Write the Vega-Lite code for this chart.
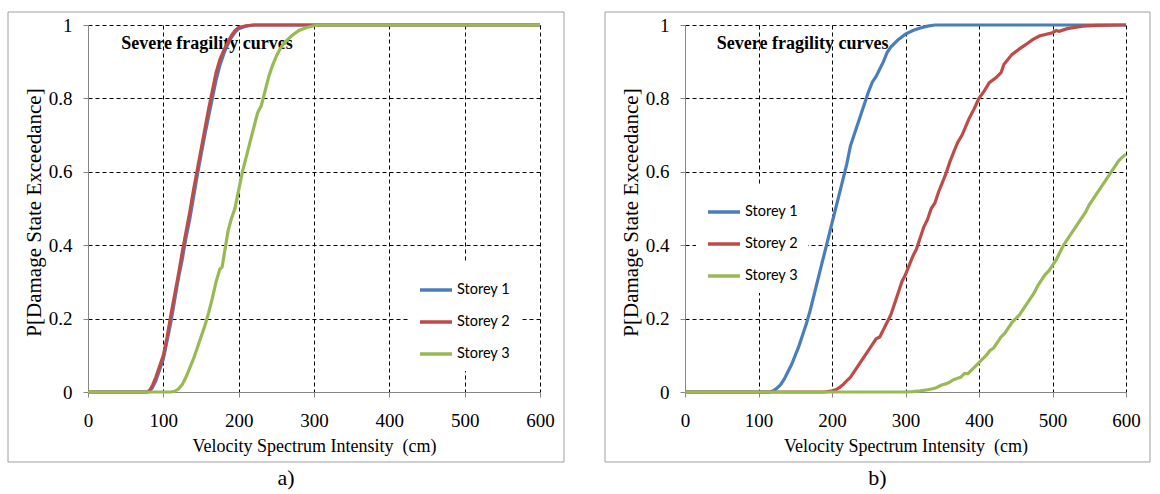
{
  "$schema": "https://vega.github.io/schema/vega-lite/v6.json",
  "background": "white",
  "padding": {"left": 7, "top": 11, "right": 0, "bottom": 0},
  "spacing": 39,
  "config": {
    "view": {"stroke": null},
    "axis": {
      "grid": true,
      "gridDash": [4, 3],
      "gridWidth": 1,
      "domainColor": "#868686",
      "domainWidth": 1,
      "tickColor": "#868686",
      "tickSize": 5,
      "labelFont": "Liberation Serif",
      "labelFontSize": 19,
      "labelColor": "black",
      "labelFlush": false,
      "labelOverlap": false,
      "titleFont": "Liberation Serif",
      "titleFontSize": 18,
      "titleFontWeight": "normal",
      "titleColor": "black"
    },
    "axisY": {"titleFontSize": 21},
    "legend": {
      "orient": "none",
      "title": null,
      "fillColor": "white",
      "padding": 10,
      "symbolType": "stroke",
      "symbolSize": 1024,
      "symbolStrokeWidth": 3.5,
      "labelFont": "Lato",
      "labelFontSize": 14.5,
      "labelColor": "black",
      "labelOffset": 3,
      "rowPadding": 7
    },
    "title": {"font": "Liberation Serif", "fontSize": 22, "fontWeight": "normal", "color": "black", "orient": "bottom", "frame": "bounds", "anchor": "middle", "offset": 6}
  },
  "resolve": {"scale": {"color": "independent"}, "legend": {"color": "independent"}},
  "datasets": {
    "curves": [
      {"panel": "a", "storey": "Storey 1", "vsi": 0, "p": 0},
      {"panel": "a", "storey": "Storey 1", "vsi": 80, "p": 0},
      {"panel": "a", "storey": "Storey 1", "vsi": 85, "p": 0.01},
      {"panel": "a", "storey": "Storey 1", "vsi": 90, "p": 0.03},
      {"panel": "a", "storey": "Storey 1", "vsi": 95, "p": 0.06},
      {"panel": "a", "storey": "Storey 1", "vsi": 100, "p": 0.09},
      {"panel": "a", "storey": "Storey 1", "vsi": 105, "p": 0.14},
      {"panel": "a", "storey": "Storey 1", "vsi": 110, "p": 0.19},
      {"panel": "a", "storey": "Storey 1", "vsi": 115, "p": 0.25},
      {"panel": "a", "storey": "Storey 1", "vsi": 120, "p": 0.31},
      {"panel": "a", "storey": "Storey 1", "vsi": 125, "p": 0.36},
      {"panel": "a", "storey": "Storey 1", "vsi": 130, "p": 0.42},
      {"panel": "a", "storey": "Storey 1", "vsi": 135, "p": 0.47},
      {"panel": "a", "storey": "Storey 1", "vsi": 140, "p": 0.53},
      {"panel": "a", "storey": "Storey 1", "vsi": 145, "p": 0.59},
      {"panel": "a", "storey": "Storey 1", "vsi": 150, "p": 0.645},
      {"panel": "a", "storey": "Storey 1", "vsi": 155, "p": 0.7},
      {"panel": "a", "storey": "Storey 1", "vsi": 160, "p": 0.75},
      {"panel": "a", "storey": "Storey 1", "vsi": 165, "p": 0.8},
      {"panel": "a", "storey": "Storey 1", "vsi": 170, "p": 0.85},
      {"panel": "a", "storey": "Storey 1", "vsi": 175, "p": 0.89},
      {"panel": "a", "storey": "Storey 1", "vsi": 180, "p": 0.92},
      {"panel": "a", "storey": "Storey 1", "vsi": 185, "p": 0.945},
      {"panel": "a", "storey": "Storey 1", "vsi": 190, "p": 0.965},
      {"panel": "a", "storey": "Storey 1", "vsi": 195, "p": 0.98},
      {"panel": "a", "storey": "Storey 1", "vsi": 200, "p": 0.99},
      {"panel": "a", "storey": "Storey 1", "vsi": 210, "p": 0.997},
      {"panel": "a", "storey": "Storey 1", "vsi": 220, "p": 1},
      {"panel": "a", "storey": "Storey 1", "vsi": 600, "p": 1},

      {"panel": "a", "storey": "Storey 2", "vsi": 0, "p": 0},
      {"panel": "a", "storey": "Storey 2", "vsi": 78, "p": 0},
      {"panel": "a", "storey": "Storey 2", "vsi": 82, "p": 0.005},
      {"panel": "a", "storey": "Storey 2", "vsi": 86, "p": 0.02},
      {"panel": "a", "storey": "Storey 2", "vsi": 90, "p": 0.04},
      {"panel": "a", "storey": "Storey 2", "vsi": 95, "p": 0.07},
      {"panel": "a", "storey": "Storey 2", "vsi": 100, "p": 0.1},
      {"panel": "a", "storey": "Storey 2", "vsi": 105, "p": 0.15},
      {"panel": "a", "storey": "Storey 2", "vsi": 110, "p": 0.21},
      {"panel": "a", "storey": "Storey 2", "vsi": 115, "p": 0.265},
      {"panel": "a", "storey": "Storey 2", "vsi": 120, "p": 0.32},
      {"panel": "a", "storey": "Storey 2", "vsi": 125, "p": 0.38},
      {"panel": "a", "storey": "Storey 2", "vsi": 130, "p": 0.435},
      {"panel": "a", "storey": "Storey 2", "vsi": 135, "p": 0.49},
      {"panel": "a", "storey": "Storey 2", "vsi": 140, "p": 0.55},
      {"panel": "a", "storey": "Storey 2", "vsi": 145, "p": 0.605},
      {"panel": "a", "storey": "Storey 2", "vsi": 150, "p": 0.66},
      {"panel": "a", "storey": "Storey 2", "vsi": 155, "p": 0.715},
      {"panel": "a", "storey": "Storey 2", "vsi": 160, "p": 0.77},
      {"panel": "a", "storey": "Storey 2", "vsi": 165, "p": 0.82},
      {"panel": "a", "storey": "Storey 2", "vsi": 170, "p": 0.87},
      {"panel": "a", "storey": "Storey 2", "vsi": 175, "p": 0.905},
      {"panel": "a", "storey": "Storey 2", "vsi": 180, "p": 0.93},
      {"panel": "a", "storey": "Storey 2", "vsi": 185, "p": 0.95},
      {"panel": "a", "storey": "Storey 2", "vsi": 190, "p": 0.97},
      {"panel": "a", "storey": "Storey 2", "vsi": 195, "p": 0.985},
      {"panel": "a", "storey": "Storey 2", "vsi": 200, "p": 0.993},
      {"panel": "a", "storey": "Storey 2", "vsi": 210, "p": 0.998},
      {"panel": "a", "storey": "Storey 2", "vsi": 220, "p": 1},
      {"panel": "a", "storey": "Storey 2", "vsi": 600, "p": 1},

      {"panel": "a", "storey": "Storey 3", "vsi": 0, "p": 0},
      {"panel": "a", "storey": "Storey 3", "vsi": 110, "p": 0},
      {"panel": "a", "storey": "Storey 3", "vsi": 115, "p": 0.002},
      {"panel": "a", "storey": "Storey 3", "vsi": 120, "p": 0.008},
      {"panel": "a", "storey": "Storey 3", "vsi": 125, "p": 0.02},
      {"panel": "a", "storey": "Storey 3", "vsi": 130, "p": 0.04},
      {"panel": "a", "storey": "Storey 3", "vsi": 135, "p": 0.065},
      {"panel": "a", "storey": "Storey 3", "vsi": 140, "p": 0.09},
      {"panel": "a", "storey": "Storey 3", "vsi": 145, "p": 0.12},
      {"panel": "a", "storey": "Storey 3", "vsi": 150, "p": 0.15},
      {"panel": "a", "storey": "Storey 3", "vsi": 155, "p": 0.18},
      {"panel": "a", "storey": "Storey 3", "vsi": 160, "p": 0.215},
      {"panel": "a", "storey": "Storey 3", "vsi": 165, "p": 0.255},
      {"panel": "a", "storey": "Storey 3", "vsi": 170, "p": 0.3},
      {"panel": "a", "storey": "Storey 3", "vsi": 175, "p": 0.335},
      {"panel": "a", "storey": "Storey 3", "vsi": 178, "p": 0.34},
      {"panel": "a", "storey": "Storey 3", "vsi": 182, "p": 0.39},
      {"panel": "a", "storey": "Storey 3", "vsi": 186, "p": 0.44},
      {"panel": "a", "storey": "Storey 3", "vsi": 190, "p": 0.47},
      {"panel": "a", "storey": "Storey 3", "vsi": 195, "p": 0.5},
      {"panel": "a", "storey": "Storey 3", "vsi": 200, "p": 0.55},
      {"panel": "a", "storey": "Storey 3", "vsi": 205, "p": 0.6},
      {"panel": "a", "storey": "Storey 3", "vsi": 210, "p": 0.64},
      {"panel": "a", "storey": "Storey 3", "vsi": 215, "p": 0.68},
      {"panel": "a", "storey": "Storey 3", "vsi": 220, "p": 0.72},
      {"panel": "a", "storey": "Storey 3", "vsi": 225, "p": 0.76},
      {"panel": "a", "storey": "Storey 3", "vsi": 230, "p": 0.78},
      {"panel": "a", "storey": "Storey 3", "vsi": 235, "p": 0.82},
      {"panel": "a", "storey": "Storey 3", "vsi": 240, "p": 0.86},
      {"panel": "a", "storey": "Storey 3", "vsi": 245, "p": 0.89},
      {"panel": "a", "storey": "Storey 3", "vsi": 250, "p": 0.915},
      {"panel": "a", "storey": "Storey 3", "vsi": 255, "p": 0.935},
      {"panel": "a", "storey": "Storey 3", "vsi": 260, "p": 0.95},
      {"panel": "a", "storey": "Storey 3", "vsi": 270, "p": 0.97},
      {"panel": "a", "storey": "Storey 3", "vsi": 280, "p": 0.985},
      {"panel": "a", "storey": "Storey 3", "vsi": 290, "p": 0.993},
      {"panel": "a", "storey": "Storey 3", "vsi": 300, "p": 0.998},
      {"panel": "a", "storey": "Storey 3", "vsi": 310, "p": 1},
      {"panel": "a", "storey": "Storey 3", "vsi": 600, "p": 1},

      {"panel": "b", "storey": "Storey 1", "vsi": 0, "p": 0},
      {"panel": "b", "storey": "Storey 1", "vsi": 115, "p": 0},
      {"panel": "b", "storey": "Storey 1", "vsi": 120, "p": 0.003},
      {"panel": "b", "storey": "Storey 1", "vsi": 125, "p": 0.01},
      {"panel": "b", "storey": "Storey 1", "vsi": 130, "p": 0.02},
      {"panel": "b", "storey": "Storey 1", "vsi": 135, "p": 0.035},
      {"panel": "b", "storey": "Storey 1", "vsi": 140, "p": 0.055},
      {"panel": "b", "storey": "Storey 1", "vsi": 145, "p": 0.075},
      {"panel": "b", "storey": "Storey 1", "vsi": 150, "p": 0.1},
      {"panel": "b", "storey": "Storey 1", "vsi": 155, "p": 0.125},
      {"panel": "b", "storey": "Storey 1", "vsi": 160, "p": 0.155},
      {"panel": "b", "storey": "Storey 1", "vsi": 165, "p": 0.185},
      {"panel": "b", "storey": "Storey 1", "vsi": 170, "p": 0.22},
      {"panel": "b", "storey": "Storey 1", "vsi": 175, "p": 0.26},
      {"panel": "b", "storey": "Storey 1", "vsi": 180, "p": 0.3},
      {"panel": "b", "storey": "Storey 1", "vsi": 185, "p": 0.34},
      {"panel": "b", "storey": "Storey 1", "vsi": 190, "p": 0.38},
      {"panel": "b", "storey": "Storey 1", "vsi": 195, "p": 0.42},
      {"panel": "b", "storey": "Storey 1", "vsi": 200, "p": 0.46},
      {"panel": "b", "storey": "Storey 1", "vsi": 205, "p": 0.5},
      {"panel": "b", "storey": "Storey 1", "vsi": 210, "p": 0.54},
      {"panel": "b", "storey": "Storey 1", "vsi": 215, "p": 0.58},
      {"panel": "b", "storey": "Storey 1", "vsi": 220, "p": 0.62},
      {"panel": "b", "storey": "Storey 1", "vsi": 225, "p": 0.67},
      {"panel": "b", "storey": "Storey 1", "vsi": 230, "p": 0.7},
      {"panel": "b", "storey": "Storey 1", "vsi": 235, "p": 0.73},
      {"panel": "b", "storey": "Storey 1", "vsi": 240, "p": 0.76},
      {"panel": "b", "storey": "Storey 1", "vsi": 245, "p": 0.79},
      {"panel": "b", "storey": "Storey 1", "vsi": 250, "p": 0.82},
      {"panel": "b", "storey": "Storey 1", "vsi": 255, "p": 0.845},
      {"panel": "b", "storey": "Storey 1", "vsi": 260, "p": 0.86},
      {"panel": "b", "storey": "Storey 1", "vsi": 265, "p": 0.88},
      {"panel": "b", "storey": "Storey 1", "vsi": 270, "p": 0.9},
      {"panel": "b", "storey": "Storey 1", "vsi": 275, "p": 0.925},
      {"panel": "b", "storey": "Storey 1", "vsi": 280, "p": 0.94},
      {"panel": "b", "storey": "Storey 1", "vsi": 290, "p": 0.96},
      {"panel": "b", "storey": "Storey 1", "vsi": 300, "p": 0.975},
      {"panel": "b", "storey": "Storey 1", "vsi": 310, "p": 0.985},
      {"panel": "b", "storey": "Storey 1", "vsi": 320, "p": 0.992},
      {"panel": "b", "storey": "Storey 1", "vsi": 330, "p": 0.997},
      {"panel": "b", "storey": "Storey 1", "vsi": 340, "p": 1},
      {"panel": "b", "storey": "Storey 1", "vsi": 600, "p": 1},

      {"panel": "b", "storey": "Storey 2", "vsi": 0, "p": 0},
      {"panel": "b", "storey": "Storey 2", "vsi": 190, "p": 0},
      {"panel": "b", "storey": "Storey 2", "vsi": 200, "p": 0.003},
      {"panel": "b", "storey": "Storey 2", "vsi": 205, "p": 0.006},
      {"panel": "b", "storey": "Storey 2", "vsi": 210, "p": 0.012},
      {"panel": "b", "storey": "Storey 2", "vsi": 215, "p": 0.02},
      {"panel": "b", "storey": "Storey 2", "vsi": 220, "p": 0.03},
      {"panel": "b", "storey": "Storey 2", "vsi": 225, "p": 0.04},
      {"panel": "b", "storey": "Storey 2", "vsi": 230, "p": 0.055},
      {"panel": "b", "storey": "Storey 2", "vsi": 235, "p": 0.07},
      {"panel": "b", "storey": "Storey 2", "vsi": 240, "p": 0.085},
      {"panel": "b", "storey": "Storey 2", "vsi": 245, "p": 0.1},
      {"panel": "b", "storey": "Storey 2", "vsi": 250, "p": 0.115},
      {"panel": "b", "storey": "Storey 2", "vsi": 255, "p": 0.13},
      {"panel": "b", "storey": "Storey 2", "vsi": 260, "p": 0.145},
      {"panel": "b", "storey": "Storey 2", "vsi": 265, "p": 0.15},
      {"panel": "b", "storey": "Storey 2", "vsi": 270, "p": 0.17},
      {"panel": "b", "storey": "Storey 2", "vsi": 275, "p": 0.19},
      {"panel": "b", "storey": "Storey 2", "vsi": 280, "p": 0.21},
      {"panel": "b", "storey": "Storey 2", "vsi": 285, "p": 0.24},
      {"panel": "b", "storey": "Storey 2", "vsi": 290, "p": 0.27},
      {"panel": "b", "storey": "Storey 2", "vsi": 295, "p": 0.3},
      {"panel": "b", "storey": "Storey 2", "vsi": 300, "p": 0.32},
      {"panel": "b", "storey": "Storey 2", "vsi": 305, "p": 0.345},
      {"panel": "b", "storey": "Storey 2", "vsi": 310, "p": 0.37},
      {"panel": "b", "storey": "Storey 2", "vsi": 315, "p": 0.39},
      {"panel": "b", "storey": "Storey 2", "vsi": 320, "p": 0.42},
      {"panel": "b", "storey": "Storey 2", "vsi": 325, "p": 0.45},
      {"panel": "b", "storey": "Storey 2", "vsi": 330, "p": 0.47},
      {"panel": "b", "storey": "Storey 2", "vsi": 335, "p": 0.5},
      {"panel": "b", "storey": "Storey 2", "vsi": 340, "p": 0.515},
      {"panel": "b", "storey": "Storey 2", "vsi": 345, "p": 0.545},
      {"panel": "b", "storey": "Storey 2", "vsi": 350, "p": 0.57},
      {"panel": "b", "storey": "Storey 2", "vsi": 355, "p": 0.595},
      {"panel": "b", "storey": "Storey 2", "vsi": 360, "p": 0.625},
      {"panel": "b", "storey": "Storey 2", "vsi": 366, "p": 0.656},
      {"panel": "b", "storey": "Storey 2", "vsi": 371, "p": 0.68},
      {"panel": "b", "storey": "Storey 2", "vsi": 377, "p": 0.7},
      {"panel": "b", "storey": "Storey 2", "vsi": 386, "p": 0.743},
      {"panel": "b", "storey": "Storey 2", "vsi": 393, "p": 0.77},
      {"panel": "b", "storey": "Storey 2", "vsi": 400, "p": 0.8},
      {"panel": "b", "storey": "Storey 2", "vsi": 407, "p": 0.82},
      {"panel": "b", "storey": "Storey 2", "vsi": 414, "p": 0.843},
      {"panel": "b", "storey": "Storey 2", "vsi": 423, "p": 0.856},
      {"panel": "b", "storey": "Storey 2", "vsi": 430, "p": 0.87},
      {"panel": "b", "storey": "Storey 2", "vsi": 434, "p": 0.893},
      {"panel": "b", "storey": "Storey 2", "vsi": 445, "p": 0.92},
      {"panel": "b", "storey": "Storey 2", "vsi": 455, "p": 0.935},
      {"panel": "b", "storey": "Storey 2", "vsi": 464, "p": 0.947},
      {"panel": "b", "storey": "Storey 2", "vsi": 473, "p": 0.96},
      {"panel": "b", "storey": "Storey 2", "vsi": 482, "p": 0.97},
      {"panel": "b", "storey": "Storey 2", "vsi": 500, "p": 0.979},
      {"panel": "b", "storey": "Storey 2", "vsi": 505, "p": 0.985},
      {"panel": "b", "storey": "Storey 2", "vsi": 509, "p": 0.983},
      {"panel": "b", "storey": "Storey 2", "vsi": 520, "p": 0.99},
      {"panel": "b", "storey": "Storey 2", "vsi": 541, "p": 0.997},
      {"panel": "b", "storey": "Storey 2", "vsi": 560, "p": 0.999},
      {"panel": "b", "storey": "Storey 2", "vsi": 595, "p": 1},
      {"panel": "b", "storey": "Storey 2", "vsi": 600, "p": 1},

      {"panel": "b", "storey": "Storey 3", "vsi": 0, "p": 0},
      {"panel": "b", "storey": "Storey 3", "vsi": 300, "p": 0},
      {"panel": "b", "storey": "Storey 3", "vsi": 310, "p": 0.001},
      {"panel": "b", "storey": "Storey 3", "vsi": 320, "p": 0.003},
      {"panel": "b", "storey": "Storey 3", "vsi": 330, "p": 0.006},
      {"panel": "b", "storey": "Storey 3", "vsi": 340, "p": 0.01},
      {"panel": "b", "storey": "Storey 3", "vsi": 345, "p": 0.015},
      {"panel": "b", "storey": "Storey 3", "vsi": 350, "p": 0.02},
      {"panel": "b", "storey": "Storey 3", "vsi": 355, "p": 0.022},
      {"panel": "b", "storey": "Storey 3", "vsi": 360, "p": 0.027},
      {"panel": "b", "storey": "Storey 3", "vsi": 365, "p": 0.033},
      {"panel": "b", "storey": "Storey 3", "vsi": 370, "p": 0.037},
      {"panel": "b", "storey": "Storey 3", "vsi": 375, "p": 0.04},
      {"panel": "b", "storey": "Storey 3", "vsi": 380, "p": 0.05},
      {"panel": "b", "storey": "Storey 3", "vsi": 385, "p": 0.05},
      {"panel": "b", "storey": "Storey 3", "vsi": 390, "p": 0.06},
      {"panel": "b", "storey": "Storey 3", "vsi": 395, "p": 0.07},
      {"panel": "b", "storey": "Storey 3", "vsi": 400, "p": 0.08},
      {"panel": "b", "storey": "Storey 3", "vsi": 405, "p": 0.09},
      {"panel": "b", "storey": "Storey 3", "vsi": 410, "p": 0.1},
      {"panel": "b", "storey": "Storey 3", "vsi": 415, "p": 0.113},
      {"panel": "b", "storey": "Storey 3", "vsi": 420, "p": 0.12},
      {"panel": "b", "storey": "Storey 3", "vsi": 425, "p": 0.135},
      {"panel": "b", "storey": "Storey 3", "vsi": 430, "p": 0.15},
      {"panel": "b", "storey": "Storey 3", "vsi": 435, "p": 0.16},
      {"panel": "b", "storey": "Storey 3", "vsi": 440, "p": 0.175},
      {"panel": "b", "storey": "Storey 3", "vsi": 445, "p": 0.19},
      {"panel": "b", "storey": "Storey 3", "vsi": 450, "p": 0.2},
      {"panel": "b", "storey": "Storey 3", "vsi": 455, "p": 0.21},
      {"panel": "b", "storey": "Storey 3", "vsi": 460, "p": 0.225},
      {"panel": "b", "storey": "Storey 3", "vsi": 465, "p": 0.24},
      {"panel": "b", "storey": "Storey 3", "vsi": 470, "p": 0.255},
      {"panel": "b", "storey": "Storey 3", "vsi": 475, "p": 0.27},
      {"panel": "b", "storey": "Storey 3", "vsi": 480, "p": 0.29},
      {"panel": "b", "storey": "Storey 3", "vsi": 485, "p": 0.305},
      {"panel": "b", "storey": "Storey 3", "vsi": 490, "p": 0.32},
      {"panel": "b", "storey": "Storey 3", "vsi": 495, "p": 0.33},
      {"panel": "b", "storey": "Storey 3", "vsi": 500, "p": 0.345},
      {"panel": "b", "storey": "Storey 3", "vsi": 505, "p": 0.36},
      {"panel": "b", "storey": "Storey 3", "vsi": 510, "p": 0.38},
      {"panel": "b", "storey": "Storey 3", "vsi": 515, "p": 0.4},
      {"panel": "b", "storey": "Storey 3", "vsi": 520, "p": 0.415},
      {"panel": "b", "storey": "Storey 3", "vsi": 525, "p": 0.43},
      {"panel": "b", "storey": "Storey 3", "vsi": 530, "p": 0.445},
      {"panel": "b", "storey": "Storey 3", "vsi": 535, "p": 0.46},
      {"panel": "b", "storey": "Storey 3", "vsi": 540, "p": 0.475},
      {"panel": "b", "storey": "Storey 3", "vsi": 545, "p": 0.49},
      {"panel": "b", "storey": "Storey 3", "vsi": 550, "p": 0.51},
      {"panel": "b", "storey": "Storey 3", "vsi": 555, "p": 0.525},
      {"panel": "b", "storey": "Storey 3", "vsi": 560, "p": 0.54},
      {"panel": "b", "storey": "Storey 3", "vsi": 565, "p": 0.555},
      {"panel": "b", "storey": "Storey 3", "vsi": 570, "p": 0.57},
      {"panel": "b", "storey": "Storey 3", "vsi": 575, "p": 0.585},
      {"panel": "b", "storey": "Storey 3", "vsi": 580, "p": 0.6},
      {"panel": "b", "storey": "Storey 3", "vsi": 585, "p": 0.615},
      {"panel": "b", "storey": "Storey 3", "vsi": 590, "p": 0.63},
      {"panel": "b", "storey": "Storey 3", "vsi": 595, "p": 0.64},
      {"panel": "b", "storey": "Storey 3", "vsi": 600, "p": 0.648}
    ]
  },
  "hconcat": [
    {
      "width": 452,
      "height": 367,
      "title": {"text": "a)"},
      "layer": [
        {
          "data": {"values": [{"frame": 1}]},
          "mark": {"type": "rect", "fill": null, "stroke": "#a0a0a0", "strokeWidth": 1, "clip": false},
          "encoding": {
            "x": {"datum": -106.19, "type": "quantitative", "scale": {"domain": [0, 600], "nice": false},
              "axis": {"title": "Velocity Spectrum Intensity\u00a0 (cm)", "values": [0, 100, 200, 300, 400, 500, 600], "format": "d",
                "gridColor": {"condition": {"test": "datum.value === 0", "value": "transparent"}, "value": "black"},
                "labelBaseline": "alphabetic", "labelPadding": 29, "titleBaseline": "alphabetic", "titleY": 59}},
            "x2": {"datum": 631.86},
            "y": {"datum": 1.0354, "type": "quantitative", "scale": {"domain": [0, 1], "nice": false},
              "axis": {"title": "P[Damage State Exceedance]", "values": [0, 0.2, 0.4, 0.6, 0.8, 1], "format": "~g",
                "gridColor": {"condition": {"test": "datum.value === 0", "value": "transparent"}, "value": "black"},
                "labelPadding": 11, "titleBaseline": "middle", "titleX": -54, "titleY": 187}},
            "y2": {"datum": -0.1907}
          }
        },
        {
          "data": {"values": [{"label": "Severe fragility curves"}]},
          "mark": {"type": "text", "font": "Liberation Serif", "fontSize": 18, "fontWeight": "bold", "baseline": "alphabetic", "align": "center", "color": "black"},
          "encoding": {
            "text": {"field": "label"},
            "x": {"datum": 158, "type": "quantitative", "scale": {"domain": [0, 600], "nice": false},
              "axis": {"title": "Velocity Spectrum Intensity\u00a0 (cm)", "values": [0, 100, 200, 300, 400, 500, 600], "format": "d",
                "gridColor": {"condition": {"test": "datum.value === 0", "value": "transparent"}, "value": "black"},
                "labelBaseline": "alphabetic", "labelPadding": 29, "titleBaseline": "alphabetic", "titleY": 59}},
            "y": {"datum": 0.9338, "type": "quantitative", "scale": {"domain": [0, 1], "nice": false},
              "axis": {"title": "P[Damage State Exceedance]", "values": [0, 0.2, 0.4, 0.6, 0.8, 1], "format": "~g",
                "gridColor": {"condition": {"test": "datum.value === 0", "value": "transparent"}, "value": "black"},
                "labelPadding": 11, "titleBaseline": "middle", "titleX": -54, "titleY": 187}}
          }
        },
        {
          "data": {"name": "curves"},
          "transform": [{"filter": "datum.panel === 'a'"}],
          "mark": {"type": "line", "strokeWidth": 3.2},
          "encoding": {
            "x": {"field": "vsi", "type": "quantitative", "scale": {"domain": [0, 600], "nice": false},
              "axis": {"title": "Velocity Spectrum Intensity\u00a0 (cm)", "values": [0, 100, 200, 300, 400, 500, 600], "format": "d",
                "gridColor": {"condition": {"test": "datum.value === 0", "value": "transparent"}, "value": "black"},
                "labelBaseline": "alphabetic", "labelPadding": 29, "titleBaseline": "alphabetic", "titleY": 59}},
            "y": {"field": "p", "type": "quantitative", "scale": {"domain": [0, 1], "nice": false},
              "axis": {"title": "P[Damage State Exceedance]", "values": [0, 0.2, 0.4, 0.6, 0.8, 1], "format": "~g",
                "gridColor": {"condition": {"test": "datum.value === 0", "value": "transparent"}, "value": "black"},
                "labelPadding": 11, "titleBaseline": "middle", "titleX": -54, "titleY": 187}},
            "color": {"field": "storey", "type": "nominal",
              "scale": {"domain": ["Storey 1", "Storey 2", "Storey 3"], "range": ["#4a7ebb", "#be4b48", "#98b954"]},
              "legend": {"legendX": 320, "legendY": 237}}
          }
        }
      ]
    },
    {
      "width": 441,
      "height": 367,
      "title": {"text": "b)"},
      "layer": [
        {
          "data": {"values": [{"frame": 1}]},
          "mark": {"type": "rect", "fill": null, "stroke": "#a0a0a0", "strokeWidth": 1, "clip": false},
          "encoding": {
            "x": {"datum": -108.84, "type": "quantitative", "scale": {"domain": [0, 600], "nice": false},
              "axis": {"title": "Velocity Spectrum Intensity\u00a0 (cm)", "values": [0, 100, 200, 300, 400, 500, 600], "format": "d",
                "gridColor": {"condition": {"test": "datum.value === 0", "value": "transparent"}, "value": "black"},
                "labelBaseline": "alphabetic", "labelPadding": 29, "titleBaseline": "alphabetic", "titleY": 59}},
            "x2": {"datum": 632.65},
            "y": {"datum": 1.0354, "type": "quantitative", "scale": {"domain": [0, 1], "nice": false},
              "axis": {"title": "P[Damage State Exceedance]", "values": [0, 0.2, 0.4, 0.6, 0.8, 1], "format": "~g",
                "gridColor": {"condition": {"test": "datum.value === 0", "value": "transparent"}, "value": "black"},
                "labelPadding": 11, "titleBaseline": "middle", "titleX": -54, "titleY": 187}},
            "y2": {"datum": -0.1907}
          }
        },
        {
          "data": {"values": [{"label": "Severe fragility curves"}]},
          "mark": {"type": "text", "font": "Liberation Serif", "fontSize": 18, "fontWeight": "bold", "baseline": "alphabetic", "align": "center", "color": "black"},
          "encoding": {
            "text": {"field": "label"},
            "x": {"datum": 160, "type": "quantitative", "scale": {"domain": [0, 600], "nice": false},
              "axis": {"title": "Velocity Spectrum Intensity\u00a0 (cm)", "values": [0, 100, 200, 300, 400, 500, 600], "format": "d",
                "gridColor": {"condition": {"test": "datum.value === 0", "value": "transparent"}, "value": "black"},
                "labelBaseline": "alphabetic", "labelPadding": 29, "titleBaseline": "alphabetic", "titleY": 59}},
            "y": {"datum": 0.9338, "type": "quantitative", "scale": {"domain": [0, 1], "nice": false},
              "axis": {"title": "P[Damage State Exceedance]", "values": [0, 0.2, 0.4, 0.6, 0.8, 1], "format": "~g",
                "gridColor": {"condition": {"test": "datum.value === 0", "value": "transparent"}, "value": "black"},
                "labelPadding": 11, "titleBaseline": "middle", "titleX": -54, "titleY": 187}}
          }
        },
        {
          "data": {"name": "curves"},
          "transform": [{"filter": "datum.panel === 'b'"}],
          "mark": {"type": "line", "strokeWidth": 3.2},
          "encoding": {
            "x": {"field": "vsi", "type": "quantitative", "scale": {"domain": [0, 600], "nice": false},
              "axis": {"title": "Velocity Spectrum Intensity\u00a0 (cm)", "values": [0, 100, 200, 300, 400, 500, 600], "format": "d",
                "gridColor": {"condition": {"test": "datum.value === 0", "value": "transparent"}, "value": "black"},
                "labelBaseline": "alphabetic", "labelPadding": 29, "titleBaseline": "alphabetic", "titleY": 59}},
            "y": {"field": "p", "type": "quantitative", "scale": {"domain": [0, 1], "nice": false},
              "axis": {"title": "P[Damage State Exceedance]", "values": [0, 0.2, 0.4, 0.6, 0.8, 1], "format": "~g",
                "gridColor": {"condition": {"test": "datum.value === 0", "value": "transparent"}, "value": "black"},
                "labelPadding": 11, "titleBaseline": "middle", "titleX": -54, "titleY": 187}},
            "color": {"field": "storey", "type": "nominal",
              "scale": {"domain": ["Storey 1", "Storey 2", "Storey 3"], "range": ["#4a7ebb", "#be4b48", "#98b954"]},
              "legend": {"legendX": 11, "legendY": 159}}
          }
        }
      ]
    }
  ]
}
